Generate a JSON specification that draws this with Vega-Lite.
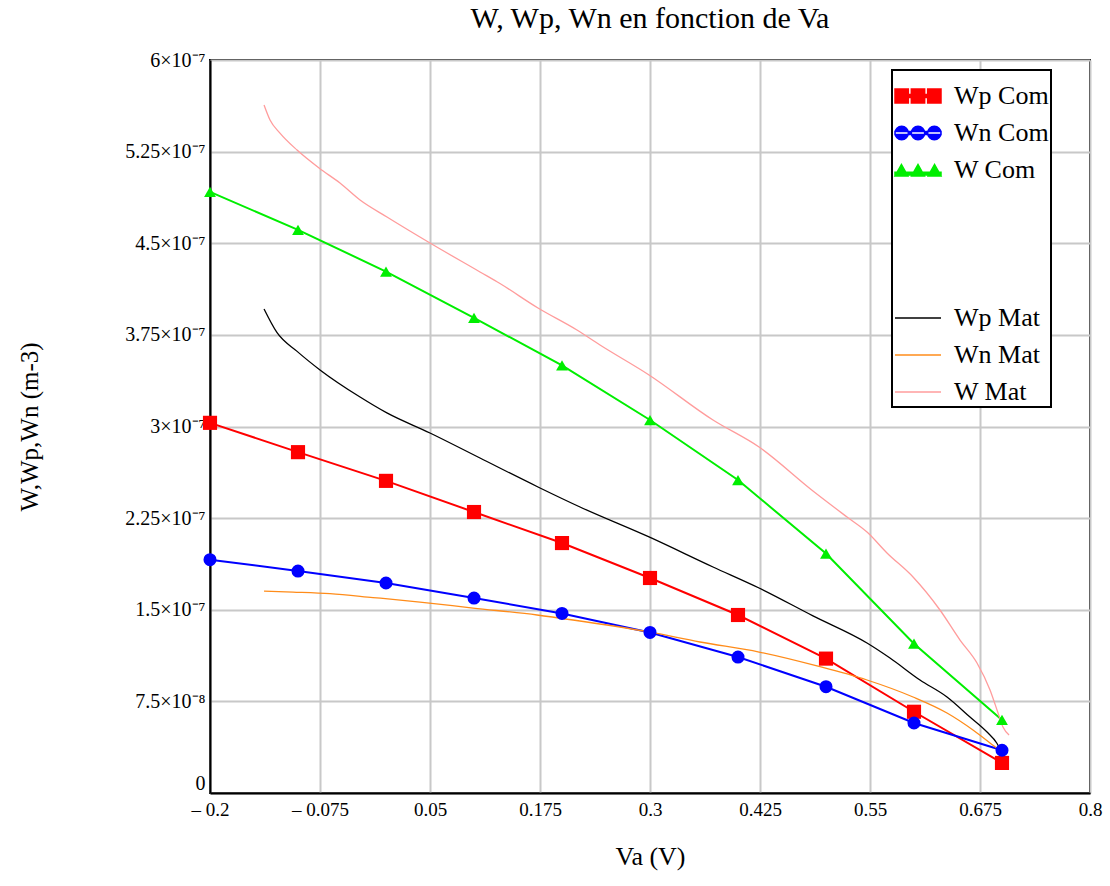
{
  "$schema": "https://vega.github.io/schema/vega-lite/v6.json",
  "width": 880,
  "height": 733,
  "autosize": "none",
  "padding": {"left": 210, "top": 60, "right": 20, "bottom": 93},
  "background": "white",
  "title": {"text": "W, Wp, Wn en fonction de  Va", "font": "Liberation Serif", "fontSize": 30, "fontWeight": "normal", "color": "black", "offset": 16, "anchor": "middle"},
  "config": {
    "view": {"stroke": "black", "strokeWidth": 2},
    "axis": {"gridColor": "#c8c8c8", "gridWidth": 2, "gridOpacity": 1, "ticks": false, "domainColor": "black", "domainWidth": 2, "labelFont": "Liberation Serif", "labelColor": "black", "titleFont": "Liberation Serif", "titleFontWeight": "normal", "titleColor": "black", "labelOverlap": false, "labelFlush": false}
  },
  "data": {"values": [
    {"series": "Wp Com", "kind": "Com", "va": -0.2, "w": 3.03e-7},
    {"series": "Wp Com", "kind": "Com", "va": -0.1, "w": 2.79e-7},
    {"series": "Wp Com", "kind": "Com", "va": 0.0, "w": 2.555e-7},
    {"series": "Wp Com", "kind": "Com", "va": 0.1, "w": 2.30e-7},
    {"series": "Wp Com", "kind": "Com", "va": 0.2, "w": 2.046e-7},
    {"series": "Wp Com", "kind": "Com", "va": 0.3, "w": 1.76e-7},
    {"series": "Wp Com", "kind": "Com", "va": 0.4, "w": 1.457e-7},
    {"series": "Wp Com", "kind": "Com", "va": 0.5, "w": 1.10e-7},
    {"series": "Wp Com", "kind": "Com", "va": 0.6, "w": 6.65e-8},
    {"series": "Wp Com", "kind": "Com", "va": 0.7, "w": 2.46e-8},
    {"series": "Wn Com", "kind": "Com", "va": -0.2, "w": 1.91e-7},
    {"series": "Wn Com", "kind": "Com", "va": -0.1, "w": 1.817e-7},
    {"series": "Wn Com", "kind": "Com", "va": 0.0, "w": 1.719e-7},
    {"series": "Wn Com", "kind": "Com", "va": 0.1, "w": 1.596e-7},
    {"series": "Wn Com", "kind": "Com", "va": 0.2, "w": 1.47e-7},
    {"series": "Wn Com", "kind": "Com", "va": 0.3, "w": 1.314e-7},
    {"series": "Wn Com", "kind": "Com", "va": 0.4, "w": 1.113e-7},
    {"series": "Wn Com", "kind": "Com", "va": 0.5, "w": 8.7e-8},
    {"series": "Wn Com", "kind": "Com", "va": 0.6, "w": 5.73e-8},
    {"series": "Wn Com", "kind": "Com", "va": 0.7, "w": 3.5e-8},
    {"series": "W Com", "kind": "Com", "va": -0.2, "w": 4.92e-7},
    {"series": "W Com", "kind": "Com", "va": -0.1, "w": 4.61e-7},
    {"series": "W Com", "kind": "Com", "va": 0.0, "w": 4.268e-7},
    {"series": "W Com", "kind": "Com", "va": 0.1, "w": 3.89e-7},
    {"series": "W Com", "kind": "Com", "va": 0.2, "w": 3.5e-7},
    {"series": "W Com", "kind": "Com", "va": 0.3, "w": 3.053e-7},
    {"series": "W Com", "kind": "Com", "va": 0.4, "w": 2.562e-7},
    {"series": "W Com", "kind": "Com", "va": 0.5, "w": 1.96e-7},
    {"series": "W Com", "kind": "Com", "va": 0.6, "w": 1.222e-7},
    {"series": "W Com", "kind": "Com", "va": 0.7, "w": 5.98e-8},
    {"series": "Wp Mat", "kind": "Mat", "va": -0.1386, "w": 3.962e-7},
    {"series": "Wp Mat", "kind": "Mat", "va": -0.124, "w": 3.77e-7},
    {"series": "Wp Mat", "kind": "Mat", "va": -0.101, "w": 3.615e-7},
    {"series": "Wp Mat", "kind": "Mat", "va": -0.075, "w": 3.463e-7},
    {"series": "Wp Mat", "kind": "Mat", "va": -0.0295, "w": 3.241e-7},
    {"series": "Wp Mat", "kind": "Mat", "va": 0.001, "w": 3.111e-7},
    {"series": "Wp Mat", "kind": "Mat", "va": 0.05, "w": 2.947e-7},
    {"series": "Wp Mat", "kind": "Mat", "va": 0.1068, "w": 2.742e-7},
    {"series": "Wp Mat", "kind": "Mat", "va": 0.1727, "w": 2.505e-7},
    {"series": "Wp Mat", "kind": "Mat", "va": 0.2205, "w": 2.341e-7},
    {"series": "Wp Mat", "kind": "Mat", "va": 0.2989, "w": 2.096e-7},
    {"series": "Wp Mat", "kind": "Mat", "va": 0.3716, "w": 1.85e-7},
    {"series": "Wp Mat", "kind": "Mat", "va": 0.4239, "w": 1.678e-7},
    {"series": "Wp Mat", "kind": "Mat", "va": 0.4852, "w": 1.45e-7},
    {"series": "Wp Mat", "kind": "Mat", "va": 0.5466, "w": 1.228e-7},
    {"series": "Wp Mat", "kind": "Mat", "va": 0.5727, "w": 1.105e-7},
    {"series": "Wp Mat", "kind": "Mat", "va": 0.6068, "w": 9.25e-8},
    {"series": "Wp Mat", "kind": "Mat", "va": 0.6375, "w": 7.86e-8},
    {"series": "Wp Mat", "kind": "Mat", "va": 0.6636, "w": 6.22e-8},
    {"series": "Wp Mat", "kind": "Mat", "va": 0.683, "w": 4.99e-8},
    {"series": "Wp Mat", "kind": "Mat", "va": 0.694, "w": 4.09e-8},
    {"series": "Wp Mat", "kind": "Mat", "va": 0.7, "w": 3.27e-8},
    {"series": "Wp Mat", "kind": "Mat", "va": 0.7057, "w": 2.54e-8},
    {"series": "Wn Mat", "kind": "Mat", "va": -0.1386, "w": 1.653e-7},
    {"series": "Wn Mat", "kind": "Mat", "va": -0.1057, "w": 1.645e-7},
    {"series": "Wn Mat", "kind": "Mat", "va": -0.0636, "w": 1.632e-7},
    {"series": "Wn Mat", "kind": "Mat", "va": -0.0148, "w": 1.6e-7},
    {"series": "Wn Mat", "kind": "Mat", "va": 0.0386, "w": 1.563e-7},
    {"series": "Wn Mat", "kind": "Mat", "va": 0.0989, "w": 1.514e-7},
    {"series": "Wn Mat", "kind": "Mat", "va": 0.1716, "w": 1.457e-7},
    {"series": "Wn Mat", "kind": "Mat", "va": 0.2125, "w": 1.416e-7},
    {"series": "Wn Mat", "kind": "Mat", "va": 0.2989, "w": 1.318e-7},
    {"series": "Wn Mat", "kind": "Mat", "va": 0.3568, "w": 1.236e-7},
    {"series": "Wn Mat", "kind": "Mat", "va": 0.4239, "w": 1.154e-7},
    {"series": "Wn Mat", "kind": "Mat", "va": 0.4898, "w": 1.04e-7},
    {"series": "Wn Mat", "kind": "Mat", "va": 0.5466, "w": 9.25e-8},
    {"series": "Wn Mat", "kind": "Mat", "va": 0.5989, "w": 7.86e-8},
    {"series": "Wn Mat", "kind": "Mat", "va": 0.6375, "w": 6.55e-8},
    {"series": "Wn Mat", "kind": "Mat", "va": 0.667, "w": 5.16e-8},
    {"series": "Wn Mat", "kind": "Mat", "va": 0.6864, "w": 4.09e-8},
    {"series": "Wn Mat", "kind": "Mat", "va": 0.7, "w": 3.27e-8},
    {"series": "Wn Mat", "kind": "Mat", "va": 0.7057, "w": 2.7e-8},
    {"series": "W Mat", "kind": "Mat", "va": -0.1386, "w": 5.632e-7},
    {"series": "W Mat", "kind": "Mat", "va": -0.1318, "w": 5.509e-7},
    {"series": "W Mat", "kind": "Mat", "va": -0.1205, "w": 5.402e-7},
    {"series": "W Mat", "kind": "Mat", "va": -0.1011, "w": 5.263e-7},
    {"series": "W Mat", "kind": "Mat", "va": -0.0761, "w": 5.116e-7},
    {"series": "W Mat", "kind": "Mat", "va": -0.0523, "w": 4.993e-7},
    {"series": "W Mat", "kind": "Mat", "va": -0.0295, "w": 4.854e-7},
    {"series": "W Mat", "kind": "Mat", "va": 0.0011, "w": 4.715e-7},
    {"series": "W Mat", "kind": "Mat", "va": 0.05, "w": 4.502e-7},
    {"series": "W Mat", "kind": "Mat", "va": 0.1068, "w": 4.265e-7},
    {"series": "W Mat", "kind": "Mat", "va": 0.1295, "w": 4.17e-7},
    {"series": "W Mat", "kind": "Mat", "va": 0.1727, "w": 3.97e-7},
    {"series": "W Mat", "kind": "Mat", "va": 0.217, "w": 3.79e-7},
    {"series": "W Mat", "kind": "Mat", "va": 0.2432, "w": 3.667e-7},
    {"series": "W Mat", "kind": "Mat", "va": 0.2989, "w": 3.422e-7},
    {"series": "W Mat", "kind": "Mat", "va": 0.3716, "w": 3.053e-7},
    {"series": "W Mat", "kind": "Mat", "va": 0.4239, "w": 2.832e-7},
    {"series": "W Mat", "kind": "Mat", "va": 0.4852, "w": 2.472e-7},
    {"series": "W Mat", "kind": "Mat", "va": 0.5239, "w": 2.259e-7},
    {"series": "W Mat", "kind": "Mat", "va": 0.5466, "w": 2.136e-7},
    {"series": "W Mat", "kind": "Mat", "va": 0.5693, "w": 1.965e-7},
    {"series": "W Mat", "kind": "Mat", "va": 0.5989, "w": 1.768e-7},
    {"series": "W Mat", "kind": "Mat", "va": 0.6295, "w": 1.498e-7},
    {"series": "W Mat", "kind": "Mat", "va": 0.6523, "w": 1.252e-7},
    {"series": "W Mat", "kind": "Mat", "va": 0.6716, "w": 1.064e-7},
    {"series": "W Mat", "kind": "Mat", "va": 0.6864, "w": 8.43e-8},
    {"series": "W Mat", "kind": "Mat", "va": 0.6955, "w": 6.55e-8},
    {"series": "W Mat", "kind": "Mat", "va": 0.7011, "w": 5.4e-8},
    {"series": "W Mat", "kind": "Mat", "va": 0.708, "w": 4.75e-8}
  ]},
  "encoding": {
    "x": {"field": "va", "type": "quantitative",
      "scale": {"domain": [-0.2, 0.8], "nice": false, "zero": false},
      "axis": {"values": [-0.2, -0.075, 0.05, 0.175, 0.3, 0.425, 0.55, 0.675, 0.8], "grid": true, "labelFontSize": 19, "labelPadding": 7,
        "labelExpr": "datum.value < 0 ? '\u2013 ' + format(-datum.value, '~g') : format(datum.value, '~g')",
        "title": "Va (V)", "titleFontSize": 26, "titlePadding": 24}},
    "y": {"field": "w", "type": "quantitative",
      "scale": {"domain": [0, 6e-7], "nice": false, "zero": true},
      "axis": {"values": [0, 7.5e-8, 1.5e-7, 2.25e-7, 3e-7, 3.75e-7, 4.5e-7, 5.25e-7, 6e-7], "grid": true, "labelFontSize": 20, "labelPadding": 5,
        "labelBaseline": {"condition": {"test": "datum.value == 0", "value": "bottom"}, "value": "middle"},
        "labelExpr": "datum.value == 0 ? '0' : (datum.value < 1e-7 ? format(datum.value * 1e8, '.3~g') + '\u00d710\u207b\u2078' : format(datum.value * 1e7, '.3~g') + '\u00d710\u207b\u2077')",
        "title": "W,Wp,Wn (m-3)", "titleFontSize": 25, "titlePadding": 82}}
  },
  "layer": [
    {
      "transform": [{"filter": "datum.kind == 'Com'"}],
      "mark": {"type": "line", "interpolate": "linear", "strokeWidth": 2},
      "encoding": {
        "color": {"field": "series", "type": "nominal",
          "scale": {"domain": ["Wp Com", "Wn Com", "W Com", "blank1", "blank2", "blank3", "Wp Mat", "Wn Mat", "W Mat"],
                    "range": ["#ff0000", "#0000ff", "#00ee00", "#ffffff", "#ffffff", "#ffffff", "#000000", "#ff8c1a", "#ff9c9c"]},
          "legend": {
            "orient": "none", "legendX": 682, "legendY": 10, "title": null,
            "strokeColor": "black", "fillColor": "white", "padding": 2,
            "labelFont": "Liberation Serif", "labelFontSize": 26, "labelColor": "black", "labelOffset": 12,
            "symbolSize": 2116, "symbolType": "stroke", "symbolStrokeWidth": 1.5, "rowPadding": 0,
            "labelExpr": "indexof(datum.label, 'blank') == 0 ? '' : datum.label + '\u00a0\u00a0\u00a0\u00a0'",
            "encode": {
              "legend": {"update": {"strokeWidth": {"value": 2}}},
              "symbols": {"update": {
                "shape": {"signal": "datum.value == 'Wp Com' ? 'M-1,-0.3H-0.42V0.3H-1Z M-0.29,-0.3H0.29V0.3H-0.29Z M0.42,-0.3H1V0.3H0.42Z M-1,-0.065H1V0.065H-1Z' : datum.value == 'Wn Com' ? 'M-1,0A0.29,0.29 0 1,0 -0.42,0A0.29,0.29 0 1,0 -1,0Z M-0.29,0A0.29,0.29 0 1,0 0.29,0A0.29,0.29 0 1,0 -0.29,0Z M0.42,0A0.29,0.29 0 1,0 1,0A0.29,0.29 0 1,0 0.42,0Z M-1,-0.065H1V0.065H-1Z' : datum.value == 'W Com' ? 'M-1,0.26L-0.72,-0.24L-0.44,0.26Z M-0.28,0.26L0,-0.24L0.28,0.26Z M0.44,0.26L0.72,-0.24L1,0.26Z M-1,0.1H1V0.22H-1Z' : 'stroke'"},
                "fill": {"signal": "datum.value == 'Wp Com' ? '#ff0000' : datum.value == 'Wn Com' ? '#0000ff' : datum.value == 'W Com' ? '#00ee00' : 'transparent'"},
                "stroke": {"signal": "datum.value == 'Wp Mat' ? '#000000' : datum.value == 'Wn Mat' ? '#ff8c1a' : datum.value == 'W Mat' ? '#ff9c9c' : 'transparent'"},
                "strokeWidth": {"value": 1.5},
                "opacity": {"value": 1}
              }}
            }
          }}
      }
    },
    {
      "transform": [{"filter": "datum.kind == 'Mat'"}],
      "mark": {"type": "line", "interpolate": "monotone", "strokeWidth": 1.3},
      "encoding": {
        "color": {"field": "series", "type": "nominal"}
      }
    },
    {
      "transform": [{"filter": "datum.kind == 'Com'"}],
      "mark": {"type": "point", "filled": true, "opacity": 1},
      "encoding": {
        "color": {"field": "series", "type": "nominal"},
        "shape": {"field": "series", "type": "nominal", "scale": {"domain": ["Wp Com", "Wn Com", "W Com"], "range": ["square", "circle", "triangle-up"]}, "legend": null},
        "size": {"field": "series", "type": "nominal", "scale": {"domain": ["Wp Com", "Wn Com", "W Com"], "range": [200, 140, 170]}, "legend": null}
      }
    }
  ]
}
